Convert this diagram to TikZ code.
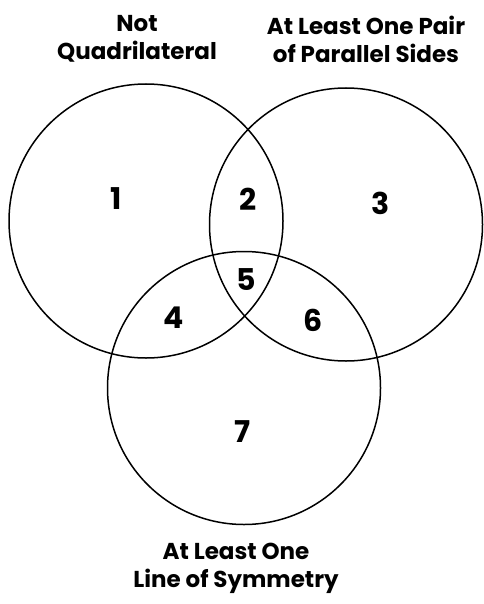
\documentclass[tikz,border=0pt]{standalone}
\usepackage{fontspec}
\setmainfont{Poppins}[BoldFont={* Bold}]
\begin{document}
\begin{tikzpicture}[x=1pt,y=-1pt,
  ring/.style={draw=black,line width=1.5pt},
  num/.style={font=\fontsize{30}{30}\selectfont\bfseries,inner sep=0pt},
  lab/.style={font=\fontsize{23}{28}\selectfont\bfseries,align=center,inner sep=0pt}]
\useasboundingbox (0,0) rectangle (483,604);
\draw[ring] (146,221) circle[radius=137] coordinate (cA);
\draw[ring] (346,224.5) circle[radius=136.5] coordinate (cB);
\draw[ring] (244,388) circle[radius=136.5] coordinate (cC);
\node[num] (n1) at (116,199) {1};
\node[num] (n2) at (248,199) {2};
\node[num] (n3) at (381,203) {3};
\node[num] (n4) at (174,318) {4};
\node[num] (n5) at (246,280) {5};
\node[num] (n6) at (313,320) {6};
\node[num] (n7) at (243,432) {7};
\node[lab] (lA) at (137,39) {Not\\Quadrilateral};
\node[lab] (lB) at (366,39) {At Least One Pair\\of Parallel Sides};
\node[lab] (lC) at (236,568) {At Least One\\Line of Symmetry};
\end{tikzpicture}
\end{document}
